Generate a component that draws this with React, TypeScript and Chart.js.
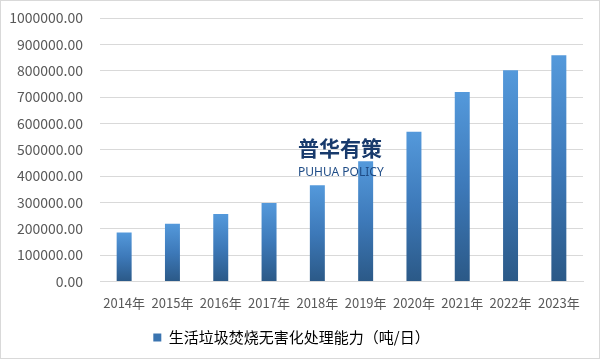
import React, { useEffect, useRef } from "react";
import { Chart, registerables } from "chart.js";

Chart.register(...registerables);

const categories = ["2014年", "2015年", "2016年", "2017年", "2018年", "2019年", "2020年", "2021年", "2022年", "2023年"];
const capacityValues = [185957, 219080, 255850, 298062, 364595, 456499, 567804, 719000, 802000, 859000];
const seriesLabel = "生活垃圾焚烧无害化处理能力（吨/日）";
const yTickMax = 1000000;
const yTickStep = 100000;

const FONT = "'Noto Sans CJK SC', 'Noto Sans', sans-serif";

const watermarkPlugin = {
  id: "watermark",
  afterDatasetsDraw(chart: any) {
    const ctx = chart.ctx;
    ctx.save();
    ctx.textBaseline = "alphabetic";
    ctx.textAlign = "left";
    ctx.fillStyle = "#183a6c";
    ctx.font = `bold 21px ${FONT}`;
    ctx.fillText("普华有策", 298, 156);
    ctx.fillStyle = "#1f4c86";
    ctx.font = `12px 'Noto Sans', sans-serif`;
    ctx.fillText("PUHUA POLICY", 298, 176);
    ctx.restore();
  },
};

const borderPlugin = {
  id: "outerBorder",
  afterDraw(chart: any) {
    const ctx = chart.ctx;
    ctx.save();
    ctx.strokeStyle = "#d9d9d9";
    ctx.lineWidth = 1;
    ctx.strokeRect(0.5, 0.5, chart.width - 2, chart.height - 3);
    ctx.restore();
  },
};

export default function App() {
  const canvasRef = useRef<HTMLCanvasElement | null>(null);

  useEffect(() => {
    if (!canvasRef.current) return;
    const chart = new Chart(canvasRef.current, {
      type: "bar",
      data: {
        labels: categories,
        datasets: [
          {
            label: seriesLabel,
            data: capacityValues,
            backgroundColor: (context: any) => {
              const c = context.chart;
              const yScale = c.scales?.y;
              if (context.type !== "data" || !yScale) return "#3d7cc0";
              const top = yScale.getPixelForValue(context.raw);
              const bottom = yScale.getPixelForValue(0);
              if (!isFinite(top) || !isFinite(bottom) || top === bottom) return "#3d7cc0";
              const g = c.ctx.createLinearGradient(0, bottom, 0, top);
              g.addColorStop(0, "#2b5987");
              g.addColorStop(0.5, "#3d79b9");
              g.addColorStop(1, "#5499db");
              return g;
            },
            borderWidth: 0,
            barPercentage: 0.62,
            categoryPercentage: 0.5,
          },
        ],
      },
      options: {
        responsive: false,
        animation: false,
        devicePixelRatio: 1,
        layout: { padding: { top: 18, left: 0, right: 18, bottom: 6 } },
        plugins: {
          legend: {
            position: "bottom",
            labels: {
              boxWidth: 8,
              boxHeight: 8,
              color: "#595959",
              font: { family: FONT, size: 15 },
              padding: 13,
              generateLabels: () => [
                {
                  text: seriesLabel,
                  fillStyle: "#3a74b0",
                  strokeStyle: "#3a74b0",
                  lineWidth: 0,
                  hidden: false,
                  datasetIndex: 0,
                },
              ],
            },
          },
          tooltip: { enabled: false },
        },
        scales: {
          x: {
            grid: { display: false },
            border: { display: true, color: "#d9d9d9" },
            ticks: {
              color: "#595959",
              font: { family: FONT, size: 13 },
              maxRotation: 0,
              autoSkip: false,
              padding: 6,
            },
          },
          y: {
            min: 0,
            max: yTickMax,
            afterFit: (scale: any) => {
              scale.width = 100;
            },
            grid: { color: "#d9d9d9", drawTicks: true, tickLength: 17, tickColor: "rgba(0,0,0,0)" },
            border: { display: false },
            ticks: {
              stepSize: yTickStep,
              color: "#595959",
              font: { family: FONT, size: 14 },
              padding: 0,
              callback: (v: any) => Number(v).toFixed(2),
            },
          },
        },
      },
      plugins: [watermarkPlugin, borderPlugin],
    });
    return () => chart.destroy();
  }, []);

  return (
    <div style={{ position: "absolute", left: 0, top: 0, width: 601, height: 361, background: "#ffffff" }}>
      <canvas ref={canvasRef} width={601} height={361} style={{ display: "block" }} />
    </div>
  );
}
